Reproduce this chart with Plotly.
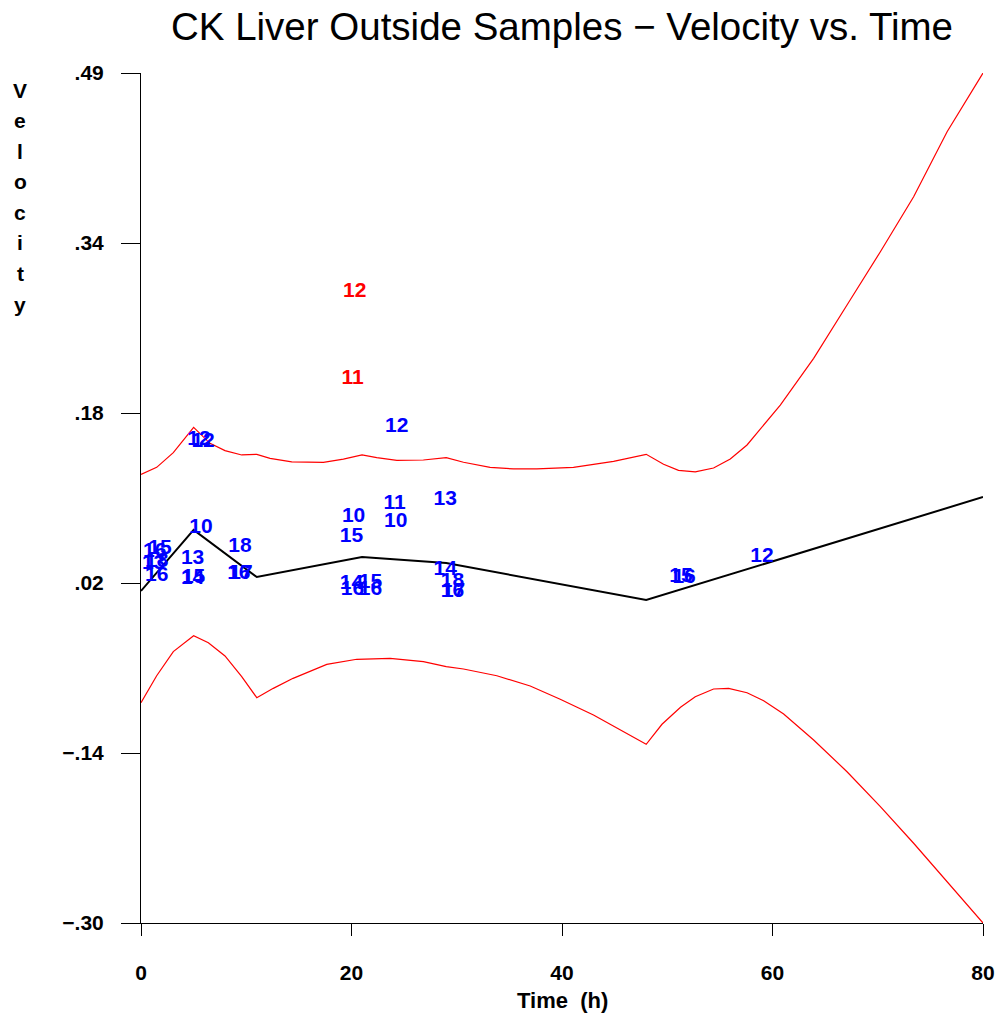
import plotly.graph_objects as go

# Fitted mean velocity (linear spline through the knots)
knot_time = [0, 5, 11, 21, 29, 48, 80]
mean_velocity = [0.0086, 0.0653, 0.0216, 0.0402, 0.0346, 0.0002, 0.0959]

# Upper band
upper_time = [0, 1.49, 3.07, 5, 6.56, 7.98, 9.57, 11, 12.26, 14.32, 17.33, 19.23, 21,
              22.40, 24.31, 26.83, 29, 30.64, 33.17, 35.39, 37.61, 39.83, 41.09, 44.90,
              48, 49.65, 51.07, 52.66, 54.40, 55.99, 57.58, 60.74, 63.91, 67.08, 70.25,
              73.41, 76.59, 80]
upper_velocity = [0.1170, 0.1235, 0.1371, 0.1607, 0.1458, 0.1390, 0.1350, 0.1356, 0.1319,
                  0.1285, 0.1282, 0.1312, 0.1350, 0.1325, 0.1300, 0.1303, 0.1325, 0.1282,
                  0.1235, 0.1220, 0.1220, 0.1229, 0.1235, 0.1291, 0.1356, 0.1263, 0.1207,
                  0.1192, 0.1229, 0.1313, 0.1443, 0.1814, 0.2248, 0.2744, 0.3239, 0.3750,
                  0.4354, 0.49]

# Lower band
lower_time = [0, 1.49, 3.07, 5, 6.40, 7.98, 9.57, 11, 12.57, 14.45, 17.65, 20.50, 23.67,
              26.83, 29, 30.64, 33.81, 36.98, 39.83, 42.99, 48, 49.50, 51.26, 52.66, 54.40,
              55.83, 57.58, 59.16, 61.06, 63.91, 67.08, 70.25, 73.41, 76.59, 80]
lower_velocity = [-0.0953, -0.0702, -0.0478, -0.0330, -0.0395, -0.0518, -0.0711, -0.0906,
                  -0.0819, -0.0726, -0.0596, -0.0549, -0.0540, -0.0571, -0.0618, -0.0639,
                  -0.0702, -0.0797, -0.0921, -0.1067, -0.1339, -0.1153, -0.0995, -0.0897,
                  -0.0825, -0.0819, -0.0860, -0.0934, -0.1058, -0.1299, -0.1594, -0.1919,
                  -0.2259, -0.2616, -0.30]

# Observations, plotted as their sample labels
obs_time = [20.3, 20.1, 24.3, 5.5, 5.9, 28.9, 24.1, 24.2, 20.2, 20.0, 5.7, 9.4, 9.3, 9.5,
            4.9, 4.9, 5.0, 1.8, 1.3, 1.5, 1.2, 1.5, 28.9, 29.6, 29.6, 29.7, 20.0, 20.1,
            21.8, 21.8, 51.3, 51.6, 59.0]
obs_velocity = [0.287, 0.206, 0.161, 0.149, 0.147, 0.093, 0.090, 0.073, 0.078, 0.059,
                0.067, 0.050, 0.025, 0.025, 0.039, 0.0197, 0.021, 0.0476, 0.045, 0.036,
                0.034, 0.023, 0.028, 0.017, 0.008, 0.008, 0.015, 0.0095, 0.016, 0.0095,
                0.022, 0.021, 0.040]
obs_label = ["12", "11", "12", "12", "12", "13", "11", "10", "10", "15", "10", "18", "16",
             "17", "13", "14", "15", "15", "16", "18", "13", "16", "14", "18", "16", "17",
             "14", "16", "15", "16", "15", "16", "12"]
obs_outlier = [True, True] + [False] * 31

# Axis ticks
x_ticks = [0, 20, 40, 60, 80]
y_ticks = [-0.30, -0.142, 0.016, 0.174, 0.332, 0.49]
y_tick_text = ["\u2212.30", "\u2212.14", ".02", ".18", ".34", ".49"]

FONT = "Liberation Sans, Arial, sans-serif"

fig = go.Figure()

fig.add_trace(go.Scatter(x=upper_time, y=upper_velocity, mode="lines",
                         line=dict(color="#ff0000", width=1.2), showlegend=False))
fig.add_trace(go.Scatter(x=lower_time, y=lower_velocity, mode="lines",
                         line=dict(color="#ff0000", width=1.2), showlegend=False))
fig.add_trace(go.Scatter(x=knot_time, y=mean_velocity, mode="lines",
                         line=dict(color="#000000", width=2), showlegend=False))

for flag, colour in [(False, "#0000ff"), (True, "#ff0000")]:
    idx = [i for i, o in enumerate(obs_outlier) if o == flag]
    fig.add_trace(go.Scatter(
        x=[obs_time[i] for i in idx],
        y=[obs_velocity[i] for i in idx],
        text=[obs_label[i] for i in idx],
        mode="text", textposition="middle center",
        textfont=dict(family=FONT, size=21, color=colour, weight="bold"),
        showlegend=False, cliponaxis=False))

axis_common = dict(showgrid=False, zeroline=False, showline=True, linecolor="#000000",
                   linewidth=1, ticks="outside", tickcolor="#000000", tickwidth=1,
                   automargin=False, ticklabeloverflow="allow",
                   tickfont=dict(family=FONT, size=21, color="#000000", weight="bold"))

fig.update_xaxes(range=[0, 80], tickvals=x_ticks, ticklen=12, ticklabelstandoff=19,
                 **axis_common)
fig.update_yaxes(range=[-0.30, 0.49], tickvals=y_ticks, ticktext=y_tick_text,
                 ticklen=19, ticklabelstandoff=13, **axis_common)

annotations = [dict(text="Time  (h)", xref="paper", yref="paper", x=0.5, y=-0.0906,
                    showarrow=False,
                    font=dict(family=FONT, size=22, color="#000000", weight="bold"),
                    xanchor="center", yanchor="middle")]
for i, ch in enumerate("Velocity"):
    py = 90 + i * 30.6
    annotations.append(dict(text=ch, xref="paper", yref="paper", x=(20 - 141) / 842,
                            y=(923 - py) / 850, showarrow=False, xanchor="center",
                            yanchor="middle",
                            font=dict(family=FONT, size=21, color="#000000",
                                      weight="bold")))

fig.update_layout(
    width=1000, height=1021,
    margin=dict(l=141, r=17, t=73, b=98, autoexpand=False),
    paper_bgcolor="#ffffff", plot_bgcolor="#ffffff",
    title=dict(text="CK Liver Outside Samples \u2212 Velocity vs. Time",
               x=0.5, xref="paper", xanchor="center",
               y=1 - 27 / 1021, yref="container", yanchor="middle",
               font=dict(family=FONT, size=38.5, color="#000000")),
    annotations=annotations,
)

fig.write_html("out.html")
